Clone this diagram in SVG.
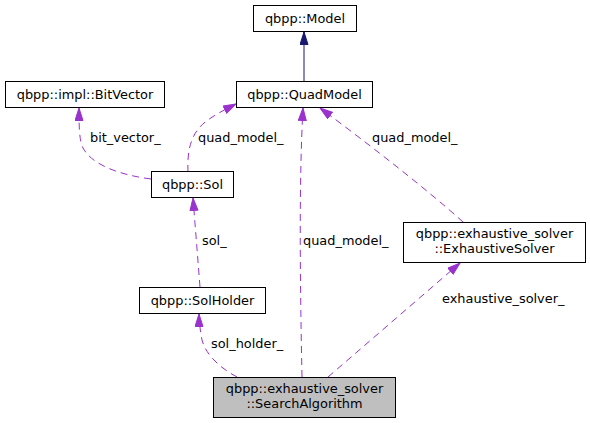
<svg xmlns="http://www.w3.org/2000/svg" width="590" height="423" viewBox="0 0 590 423">
<style>
.node rect{fill:#ffffff;stroke:#000000;stroke-width:1}
.node.cur rect{fill:#bfbfbf;stroke:#000000}
text{font-family:"DejaVu Sans","Liberation Sans",sans-serif;font-size:12.9px;fill:#000000}
.node text{text-anchor:middle}
.e{fill:none;stroke:#9a32cd;stroke-width:1;stroke-dasharray:7,5}
.inh{fill:none;stroke:#191970;stroke-width:1}
</style>
<defs>
<marker id="ap" markerUnits="userSpaceOnUse" markerWidth="14" markerHeight="11" refX="13" refY="4.5" orient="auto">
<path d="M0.5,0.5 L13,4.5 L0.5,8.5 Z" fill="#9a32cd" stroke="#9a32cd"/>
</marker>
<marker id="an" markerUnits="userSpaceOnUse" markerWidth="14" markerHeight="11" refX="13" refY="4.5" orient="auto">
<path d="M0.5,0.5 L13,4.5 L0.5,8.5 Z" fill="#191970" stroke="#191970"/>
</marker>
</defs>
<rect width="590" height="423" fill="#ffffff"/>
<g id="connectors">
<path class="inh" d="M304,81 L304,32" marker-end="url(#an)"/>
<path class="e" d="M151,179 C120,175 92,165 83,148 C79,140 79,125 79,108" marker-end="url(#ap)"/>
<path class="e" d="M188,172 C187,152 190,132 208,120 C216,114 228,108 236,104" marker-end="url(#ap)"/>
<path class="e" d="M200,287 L193,198" marker-end="url(#ap)"/>
<path class="e" d="M237,377 C220,368 206,355 202,340 C200,330 199,320 199,314" marker-end="url(#ap)"/>
<path class="e" d="M302,377 C300,280 299,180 303,108" marker-end="url(#ap)"/>
<path class="e" d="M463,222 C430,192 370,145 320,108" marker-end="url(#ap)"/>
<path class="e" d="M328,377 L460,263" marker-end="url(#ap)"/>
<text x="90" y="142">bit_vector_</text>
<text x="198" y="142">quad_model_</text>
<text x="372" y="142">quad_model_</text>
<text x="202" y="245">sol_</text>
<text x="303" y="245">quad_model_</text>
<text x="442" y="303">exhaustive_solver_</text>
<text x="211" y="348">sol_holder_</text>
</g>
<g id="n_model" class="node"><rect x="253.5" y="5.5" width="103" height="26"/><text x="305" y="22.5">qbpp::Model</text></g>
<g id="n_quadmodel" class="node"><rect x="236.5" y="81.5" width="136" height="26"/><text x="304.5" y="98.5">qbpp::QuadModel</text></g>
<g id="n_bitvector" class="node"><rect x="5.5" y="81.5" width="159" height="26"/><text x="85" y="98.5">qbpp::impl::BitVector</text></g>
<g id="n_sol" class="node"><rect x="151.5" y="171.5" width="82" height="26"/><text x="192.5" y="188.5">qbpp::Sol</text></g>
<g id="n_solholder" class="node"><rect x="139.5" y="287.5" width="126" height="26"/><text x="202.5" y="304.5">qbpp::SolHolder</text></g>
<g id="n_exhaustive" class="node"><rect x="403.5" y="222.5" width="182" height="40"/><text x="494.5" y="238">qbpp::exhaustive_solver</text><text x="494.5" y="252.5">::ExhaustiveSolver</text></g>
<g id="n_search" class="node cur"><rect x="213.5" y="377.5" width="182" height="40"/><text x="304.5" y="393">qbpp::exhaustive_solver</text><text x="304.5" y="407.5">::SearchAlgorithm</text></g>
</svg>
